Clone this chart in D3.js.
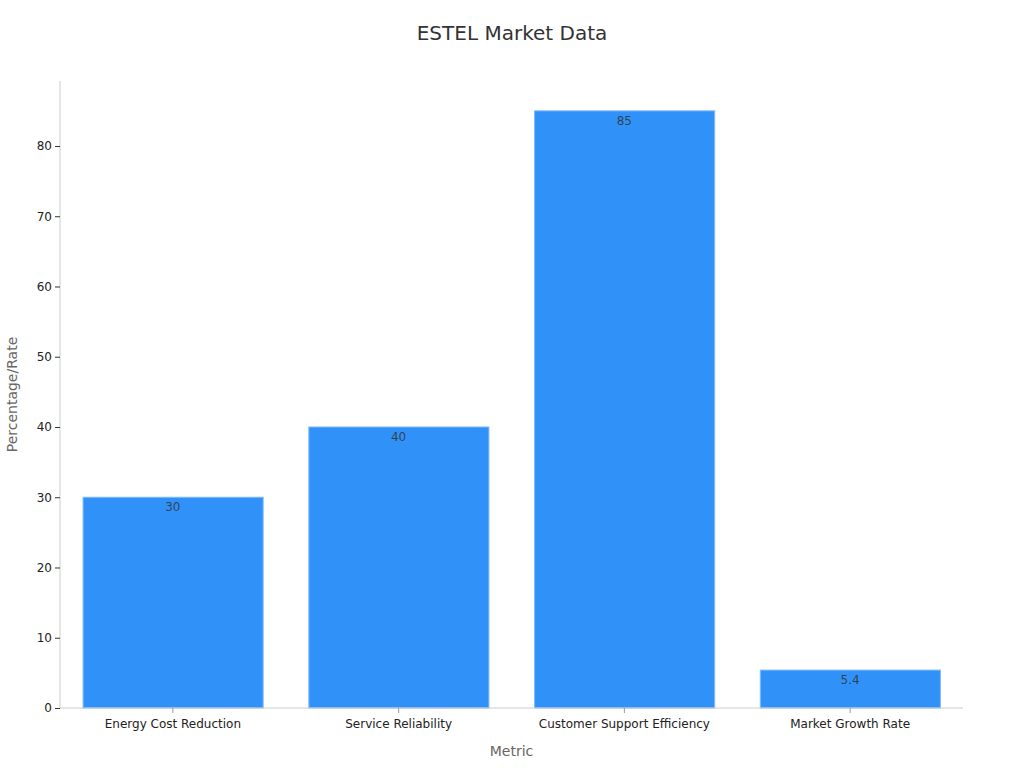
<!DOCTYPE html>
<html><head><meta charset="utf-8">
<script src="https://cdn.jsdelivr.net/npm/d3@7"></script>
<style>body{margin:0;background:#fff;} svg{display:block;font-family:"DejaVu Sans",sans-serif;}</style>
</head><body>
<svg id="chart" width="1024" height="768"></svg>
<script>
const categories = ["Energy Cost Reduction","Service Reliability","Customer Support Efficiency","Market Growth Rate"];
const values = [30, 40, 85, 5.4];
const valueLabels = ["30","40","85","5.4"];
const yTicks = [0,10,20,30,40,50,60,70,80];

const svg = d3.select("#chart");
const mLeft = 60, mRight = 963, mTop = 81, mBottom = 708;

const x = d3.scaleBand().domain(categories).range([mLeft, mRight]).paddingInner(0.2).paddingOuter(0.1);
const y = d3.scaleLinear().domain([0, d3.max(values) * 1.05]).range([mBottom, mTop]);

svg.append("text").attr("x", 512).attr("y", 40).attr("text-anchor", "middle")
  .attr("font-size", 20).attr("fill", "#333").text("ESTEL Market Data");

// bars
svg.append("g").selectAll("rect").data(values).join("rect")
  .attr("x", (d, i) => x(categories[i]) + 0.5)
  .attr("y", d => y(d))
  .attr("width", x.bandwidth() - 0.5)
  .attr("height", d => y(0) - y(d))
  .attr("fill", "#3092f9")
  .attr("stroke", "#7fbaf9").attr("stroke-width", 1);

svg.append("g").selectAll("text").data(values).join("text")
  .attr("x", (d, i) => x(categories[i]) + x.bandwidth() / 2)
  .attr("y", d => y(d) + 14)
  .attr("text-anchor", "middle").attr("font-size", 12).attr("fill", "#333").attr("fill-opacity", 0.85)
  .text((d, i) => valueLabels[i]);

// y axis
const ya = svg.append("g").attr("transform", `translate(${mLeft},0)`)
  .call(d3.axisLeft(y).tickValues(yTicks).tickSize(5).tickPadding(3));
ya.select(".domain").attr("stroke", "#ccc").attr("d", `M0,${mTop}V${mBottom}`);
ya.selectAll(".tick line").attr("stroke", "#333");
ya.selectAll(".tick text").attr("font-size", 12).attr("fill", "#222").attr("font-family", "DejaVu Sans");

// x axis
const xa = svg.append("g").attr("transform", `translate(0,${mBottom})`)
  .call(d3.axisBottom(x).tickSize(5).tickPadding(6));
xa.select(".domain").attr("stroke", "#ccc").attr("d", `M${mLeft},0H${mRight}`);
xa.selectAll(".tick line").attr("stroke", "#999");
xa.selectAll(".tick text").attr("font-size", 12).attr("fill", "#222").attr("font-family", "DejaVu Sans");

svg.append("text").attr("x", (mLeft + mRight) / 2).attr("y", 756).attr("text-anchor", "middle")
  .attr("font-size", 14).attr("fill", "#666").text("Metric");
svg.append("text").attr("transform", `translate(17,${(mTop + mBottom) / 2}) rotate(-90)`).attr("text-anchor", "middle")
  .attr("font-size", 14).attr("fill", "#666").text("Percentage/Rate");
</script>
</body></html>
